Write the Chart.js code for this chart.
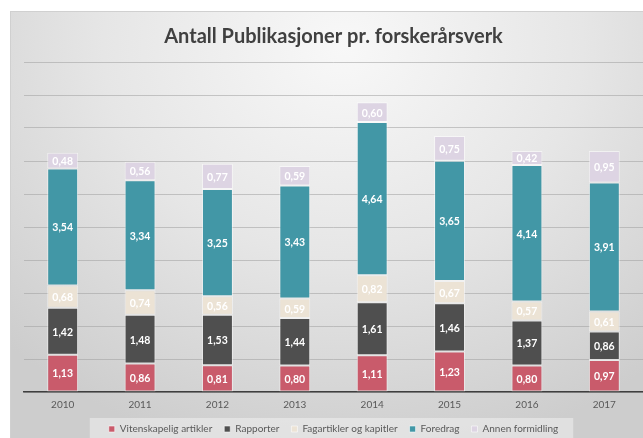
<!DOCTYPE html>
<html>
<head>
<meta charset="utf-8">
<script src="https://cdn.jsdelivr.net/npm/chart.js@4/dist/chart.umd.min.js"></script>
<style>
html,body{margin:0;padding:0;background:#fff;width:643px;height:438px;overflow:hidden;}
#bg{position:absolute;left:10px;top:11px;width:640px;height:440px;box-sizing:border-box;border-top:1px solid #d0d0d0;border-left:1px solid #d0d0d0;
background:radial-gradient(ellipse 75% 95% at 52% 8%, #f8f8f8 0%, #e6e6e6 50%, #cdcdcd 100%);}
#wrap{position:absolute;left:0;top:0;width:643px;height:438px;}
</style>
</head>
<body>
<div id="bg"></div>
<div id="wrap"><canvas id="c" width="643" height="438"></canvas></div>
<script>
const years = ['2010','2011','2012','2013','2014','2015','2016','2017'];
const vitenskapelig = [1.13, 0.86, 0.81, 0.80, 1.11, 1.23, 0.80, 0.97];
const rapporter = [1.42, 1.48, 1.53, 1.44, 1.61, 1.46, 1.37, 0.86];
const fagartikler = [0.68, 0.74, 0.56, 0.59, 0.82, 0.67, 0.57, 0.61];
const foredrag = [3.54, 3.34, 3.25, 3.43, 4.64, 3.65, 4.14, 3.91];
const annen = [0.48, 0.56, 0.77, 0.59, 0.60, 0.75, 0.42, 0.95];
const seriesNames = ['Vitenskapelig artikler','Rapporter','Fagartikler og kapitler','Foredrag','Annen formidling'];
const yTicks = [0,1,2,3,4,5,6,7,8,9,10];

const FONT = 'Lato, "Liberation Sans", sans-serif';
const colors = ['#c95b6b','#4f4f4f','#ece3d5','#4297a6','#ddd4e3'];
const seriesData = [vitenskapelig, rapporter, fagartikler, foredrag, annen];

const labelPlugin = {
  id:'segLabels',
  afterDatasetsDraw(chart){
    const ctx = chart.ctx;
    ctx.save();
    ctx.font = 'bold 10.5px ' + FONT;
    ctx.fillStyle = '#ffffff';
    ctx.textAlign = 'center';
    ctx.textBaseline = 'middle';
    chart.data.datasets.forEach((ds,i)=>{
      const meta = chart.getDatasetMeta(i);
      meta.data.forEach((el,j)=>{
        const v = ds.data[j];
        ctx.fillText(v.toFixed(2).replace('.',','), el.x, (el.y+el.base)/2 + 1);
      });
    });
    ctx.restore();
  }
};
const legendBg = {
  id:'legendBg',
  beforeDraw(chart){
    const lg = chart.legend;
    if(!lg || !lg.legendHitBoxes || !lg.legendHitBoxes.length) return;
    const hb = lg.legendHitBoxes;
    const l = hb[0].left - 19, r = hb[hb.length-1].left + hb[hb.length-1].width + 15;
    const ctx = chart.ctx;
    ctx.save();
    ctx.fillStyle = 'rgba(240,240,240,0.55)';
    ctx.fillRect(l, 418, r-l, 30);
    ctx.restore();
  }
};

new Chart(document.getElementById('c'), {
  type:'bar',
  data:{
    labels: years,
    datasets: seriesNames.map((n,i)=>({
      label:n,
      data:seriesData[i],
      backgroundColor:colors[i],
      borderColor:'rgba(255,255,255,0.55)',
      borderWidth:1,
      borderSkipped:false,
      barPercentage:0.4,
      categoryPercentage:1.0
    }))
  },
  options:{
    responsive:false,
    animation:false,
    layout:{padding:{left:24,right:0,top:0,bottom:-6}},
    plugins:{
      title:{display:true,text:'Antall Publikasjoner pr. forskerårsverk',color:'#404040',
        font:{family:FONT,size:20,weight:'bold'},padding:{top:25,bottom:13}},
      legend:{position:'bottom',
        labels:{color:'#595959',font:{family:FONT,size:10},boxWidth:6,boxHeight:6,padding:12}},
      tooltip:{enabled:false}
    },
    scales:{
      x:{stacked:true,
        grid:{display:false,drawTicks:false},
        border:{display:true,color:'#3f3f3f',width:1.5},
        ticks:{color:'#595959',font:{family:FONT,size:10},padding:7},
        afterFit(s){ s.height = 20; }
      },
      y:{stacked:true,min:0,max:10,
        afterBuildTicks(s){s.ticks = yTicks.map(v=>({value:v}));},
        ticks:{display:false},
        grid:{color:'rgba(160,160,160,0.55)',lineWidth:1,drawTicks:false},
        border:{display:false}
      }
    }
  },
  plugins:[legendBg,labelPlugin]
});
</script>
</body>
</html>
